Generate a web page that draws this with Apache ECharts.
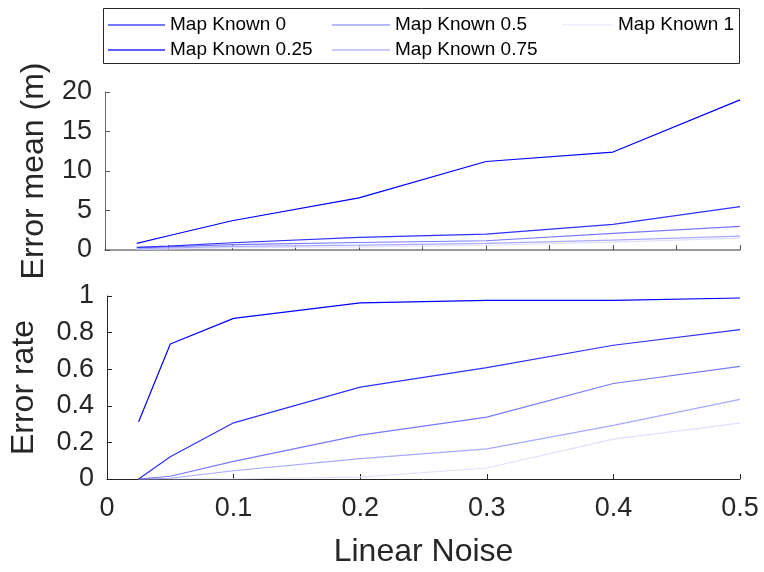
<!DOCTYPE html>
<html>
<head>
<meta charset="utf-8">
<script src="https://cdn.jsdelivr.net/npm/echarts@6/dist/echarts.min.js"></script>
<style>
html,body{margin:0;padding:0;background:#fff;}
#chart{width:764px;height:572px;}
</style>
</head>
<body>
<div id="chart"></div>
<script>
var noise = [0.025, 0.05, 0.1, 0.2, 0.3, 0.4, 0.5];
var seriesNames = ['Map Known 0', 'Map Known 0.25', 'Map Known 0.5', 'Map Known 0.75', 'Map Known 1'];

// Error mean (m)
var meanKnown0    = [0.84, 1.8, 3.7, 6.6, 11.2, 12.4, 19.0];
var meanKnown025  = [0.33, 0.5, 0.92, 1.6, 2.0, 3.25, 5.5];
var meanKnown05   = [0.3, 0.4, 0.67, 0.95, 1.17, 2.1, 3.0];
var meanKnown075  = [0.15, 0.25, 0.45, 0.62, 0.83, 1.25, 1.75];
var meanKnown1    = [0.1, 0.15, 0.3, 0.4, 0.6, 1.0, 1.5];

// Error rate
var rateKnown0    = [0.313, 0.738, 0.878, 0.962, 0.976, 0.976, 0.989];
var rateKnown025  = [0.0, 0.122, 0.307, 0.502, 0.609, 0.731, 0.816];
var rateKnown05   = [0.0, 0.015, 0.096, 0.24, 0.338, 0.522, 0.615];
var rateKnown075  = [0.0, 0.004, 0.045, 0.111, 0.165, 0.293, 0.435];
var rateKnown1    = [0.0, 0.0, 0.0, 0.01, 0.06, 0.218, 0.305];

var meanTicks = [0, 5, 10, 15, 20];
var rateTicks = [0, 0.2, 0.4, 0.6, 0.8, 1];
var noiseTicks = [0, 0.1, 0.2, 0.3, 0.4, 0.5];

var colors = ['#0000ff', '#3030ff', '#7878ff', '#a8a8ff', '#e0e0ff'];
var legendColors = ['#4a4aff', '#2a2aff', '#a0a0ff', '#b8b8ff', '#eeeeff'];
var meanData = [meanKnown0, meanKnown025, meanKnown05, meanKnown075, meanKnown1];
var rateData = [rateKnown0, rateKnown025, rateKnown05, rateKnown075, rateKnown1];

function pairs(ys){ return noise.map(function(x,i){ return [x, ys[i]]; }); }

var series = [];
seriesNames.forEach(function(n, k){
  series.push({name:n, type:'line', xAxisIndex:0, yAxisIndex:0, data:pairs(meanData[k]),
    symbol:'none', lineStyle:{color:colors[k], width:1.2}, itemStyle:{color:legendColors[k]}, z: 10-k});
});
seriesNames.forEach(function(n, k){
  series.push({name:n, type:'line', xAxisIndex:1, yAxisIndex:1, data:pairs(rateData[k]),
    symbol:'none', lineStyle:{color:colors[k], width:1.2}, itemStyle:{color:legendColors[k]}, z: 10-k});
});

var FONT = '"Liberation Sans", Arial, Helvetica, sans-serif';
var axisDark = '#262626';

function legendCol(left, names, w){
  return {
    orient:'vertical', left:left, top:15, padding:0, itemGap:5,
    itemWidth:w, itemHeight:1.6, data:names, selectedMode:false,
    textStyle:{fontFamily:FONT, fontSize:19, color:'#000', lineHeight:20, height:20, padding:[0,0,0,0]},
    icon:'rect'
  };
}

var option = {
  animation:false,
  backgroundColor:'#fff',
  graphic:[{type:'rect', shape:{x:103.5, y:8.5, width:636, height:55},
    style:{fill:'#fff', stroke:axisDark, lineWidth:1}, z:-1}],
  legend:[
    legendCol(108, ['Map Known 0','Map Known 0.25'], 57),
    legendCol(332, ['Map Known 0.5','Map Known 0.75'], 58),
    legendCol(562, ['Map Known 1'], 51)
  ],
  grid:[
    {left:105, right:24, top:92, height:158},
    {left:105, right:24, top:296, height:183}
  ],
  xAxis:[
    {type:'value', gridIndex:0, min:0, max:0.5, interval:0.05,
     axisLine:{lineStyle:{color:'#7a7a7a', width:1.5}},
     axisTick:{inside:true, length:5, lineStyle:{color:'#555'}},
     axisLabel:{show:false}, splitLine:{show:false}},
    {type:'value', gridIndex:1, min:0, max:0.5, interval:0.1,
     name:'Linear Noise', nameLocation:'middle', nameGap:57,
     nameTextStyle:{fontFamily:FONT, fontSize:32, color:axisDark},
     axisLine:{lineStyle:{color:axisDark, width:1}},
     axisTick:{inside:true, length:5, lineStyle:{color:axisDark}},
     axisLabel:{fontFamily:FONT, fontSize:27, color:axisDark, margin:16,
       formatter:function(v){ var i = noiseTicks.indexOf(Math.round(v*10)/10); return i>=0 ? String(noiseTicks[i]) : ''; }},
     splitLine:{show:false}}
  ],
  yAxis:[
    {type:'value', gridIndex:0, min:0, max:20, interval:5,
     name:'Error mean (m)', nameLocation:'middle', nameGap:55,
     nameTextStyle:{fontFamily:FONT, fontSize:32, color:axisDark},
     axisLine:{show:true, lineStyle:{color:'#6a6a6a', width:1}},
     axisTick:{show:true, inside:true, length:5, lineStyle:{color:'#555'}},
     axisLabel:{fontFamily:FONT, fontSize:27, color:axisDark, margin:13,
       formatter:function(v){ return meanTicks.indexOf(v)>=0 ? String(v) : ''; }},
     splitLine:{show:false}},
    {type:'value', gridIndex:1, min:0, max:1, interval:0.2,
     name:'Error rate', nameLocation:'middle', nameGap:67,
     nameTextStyle:{fontFamily:FONT, fontSize:32, color:axisDark},
     axisLine:{show:true, lineStyle:{color:axisDark, width:1}},
     axisTick:{show:true, inside:true, length:5, lineStyle:{color:axisDark}},
     axisLabel:{fontFamily:FONT, fontSize:27, color:axisDark, margin:13,
       formatter:function(v){ var r = Math.round(v*10)/10; return rateTicks.indexOf(r)>=0 ? String(r) : ''; }},
     splitLine:{show:false}}
  ],
  series:series
};

var chart = echarts.init(document.getElementById('chart'), null, {renderer:'canvas'});
chart.setOption(option);
</script>
</body>
</html>
